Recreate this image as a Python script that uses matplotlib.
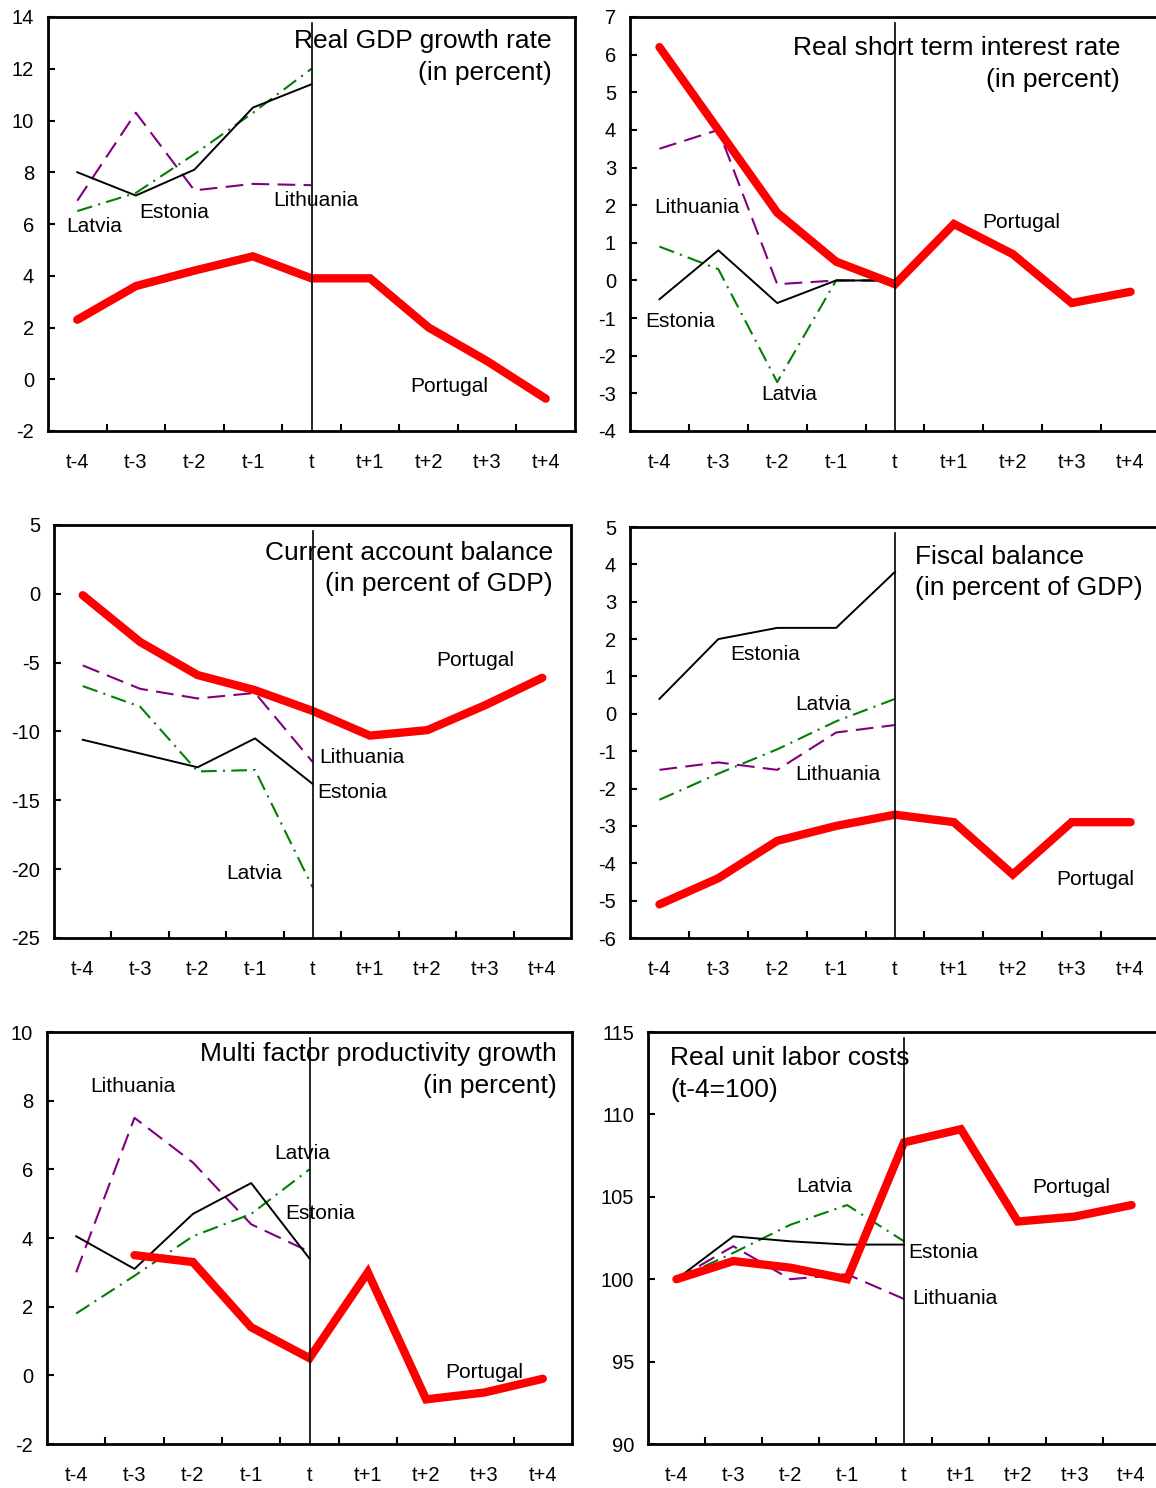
import numpy as np
import matplotlib
matplotlib.use('Agg')
import matplotlib.pyplot as plt

plt.rcParams['font.family'] = ['Liberation Sans', 'DejaVu Sans']
plt.rcParams['axes.unicode_minus'] = False

# categories
periods = ['t-4', 't-3', 't-2', 't-1', 't', 't+1', 't+2', 't+3', 't+4']

# real GDP growth rate
gdp_portugal = [2.3, 3.6, 4.2, 4.75, 3.9, 3.9, 2.0, 0.7, -0.75]
gdp_estonia = [8.0, 7.1, 8.1, 10.5, 11.4]
gdp_latvia = [6.5, 7.2, 8.7, 10.3, 12.0]
gdp_lithuania = [6.9, 10.3, 7.3, 7.55, 7.5]

# real short term interest rate
ir_portugal = [6.2, 4.0, 1.8, 0.5, -0.1, 1.5, 0.7, -0.6, -0.3]
ir_estonia = [-0.5, 0.8, -0.6, 0.0, 0.0]
ir_latvia = [0.9, 0.3, -2.7, 0.0, 0.0]
ir_lithuania = [3.5, 4.0, -0.1, 0.0, 0.0]

# current account balance
ca_portugal = [-0.1, -3.5, -5.9, -7.0, -8.5, -10.3, -9.9, -8.1, -6.1]
ca_estonia = [-10.6, -11.6, -12.6, -10.5, -13.8]
ca_latvia = [-6.7, -8.2, -12.9, -12.8, -21.3]
ca_lithuania = [-5.2, -6.9, -7.6, -7.2, -12.2]

# fiscal balance
fb_portugal = [-5.1, -4.4, -3.4, -3.0, -2.7, -2.9, -4.3, -2.9, -2.9]
fb_estonia = [0.4, 2.0, 2.3, 2.3, 3.8]
fb_latvia = [-2.3, -1.6, -0.95, -0.2, 0.4]
fb_lithuania = [-1.5, -1.3, -1.5, -0.5, -0.3]

# multi factor productivity growth (no t-4 value for Portugal)
mfp_portugal = [np.nan, 3.5, 3.3, 1.4, 0.5, 3.0, -0.7, -0.5, -0.1]
mfp_estonia = [4.05, 3.1, 4.7, 5.6, 3.4]
mfp_latvia = [1.8, 2.9, 4.05, 4.7, 6.0]
mfp_lithuania = [3.0, 7.5, 6.2, 4.4, 3.6]

# real unit labor costs
ulc_portugal = [100.0, 101.1, 100.7, 100.0, 108.3, 109.1, 103.5, 103.8, 104.5]
ulc_estonia = [100.0, 102.6, 102.3, 102.1, 102.1]
ulc_latvia = [100.0, 101.6, 103.3, 104.5, 102.3]
ulc_lithuania = [100.0, 102.0, 100.0, 100.3, 98.8]

W, H = 1156, 1488
fig = plt.figure(figsize=(W / 100, H / 100), dpi=100)


def make_axes(left, right, top, bottom):
    return fig.add_axes([left / W, 1 - bottom / H, (right - left) / W, (bottom - top) / H])


def draw_panel(ax, portugal, estonia, latvia, lithuania, yticks, title, title_pos, title_ha, labels):
    x = np.arange(len(periods))
    xb = x[:5]
    ax.plot(xb, lithuania, color='#800080', lw=1.5, dashes=(8.5, 4), zorder=2)
    ax.plot(xb, latvia, color='#008000', lw=1.5, dashes=(7.5, 3, 1, 3), zorder=2)
    ax.plot(xb, estonia, color='black', lw=1.4, zorder=3)
    ax.plot(x, np.array(portugal, dtype=float), color='#ff0000', lw=6,
            solid_capstyle='round', solid_joinstyle='miter', zorder=4)
    ax.axvline(4, ymin=0, ymax=0.985, color='black', lw=1.2, zorder=5)

    ax.set_xlim(-0.5, 8.5)
    ax.set_ylim(yticks[0], yticks[-1])
    ax.set_yticks(yticks)
    ax.set_xticks(x)
    ax.set_xticklabels(periods)
    ax.set_xticks(np.arange(0.5, 8, 1), minor=True)
    ax.tick_params(axis='x', which='major', length=0, pad=16, labelsize=14.5)
    ax.tick_params(axis='x', which='minor', direction='in', length=5, width=1.5)
    ax.tick_params(axis='y', direction='in', length=5, width=1.5, pad=10, labelsize=14.5)
    for s in ax.spines.values():
        s.set_linewidth(2)

    ax.text(title_pos[0], title_pos[1], title, transform=ax.transAxes, ha=title_ha,
            va='top', fontsize=19, multialignment=title_ha, linespacing=1.4)
    for name, lx, ly in labels:
        ax.text(lx, ly, name, ha='left', va='center', fontsize=15)


# Real GDP growth rate
ax1 = make_axes(48, 575, 17, 431)
draw_panel(ax1, gdp_portugal, gdp_estonia, gdp_latvia, gdp_lithuania,
           list(range(-2, 15, 2)), 'Real GDP growth rate\n(in percent)', (0.955, 0.97), 'right',
           [('Latvia', -0.19, 5.9), ('Estonia', 1.06, 6.45), ('Lithuania', 3.35, 6.9),
            ('Portugal', 5.69, -0.27)])

# Real short term interest rate
ax2 = make_axes(630, 1160, 17, 431)
draw_panel(ax2, ir_portugal, ir_estonia, ir_latvia, ir_lithuania,
           list(range(-4, 8)), 'Real short term interest rate\n(in percent)', (0.925, 0.953), 'right',
           [('Lithuania', -0.08, 1.95), ('Estonia', -0.24, -1.09), ('Latvia', 1.73, -3.03),
            ('Portugal', 5.48, 1.54)])

# Current account balance
ax3 = make_axes(54, 571, 525, 938)
draw_panel(ax3, ca_portugal, ca_estonia, ca_latvia, ca_lithuania,
           list(range(-25, 6, 5)), 'Current account balance\n(in percent of GDP)', (0.965, 0.962), 'right',
           [('Lithuania', 4.11, -11.9), ('Estonia', 4.09, -14.45), ('Latvia', 2.49, -20.3),
            ('Portugal', 6.15, -4.87)])

# Fiscal balance
ax4 = make_axes(630, 1160, 527, 938)
draw_panel(ax4, fb_portugal, fb_estonia, fb_latvia, fb_lithuania,
           list(range(-6, 6)), 'Fiscal balance\n(in percent of GDP)', (0.537, 0.957), 'left',
           [('Estonia', 1.21, 1.6), ('Latvia', 2.31, 0.24), ('Lithuania', 2.31, -1.63),
            ('Portugal', 6.74, -4.44)])

# Multi factor productivity growth
ax5 = make_axes(47, 572, 1032, 1444)
draw_panel(ax5, mfp_portugal, mfp_estonia, mfp_latvia, mfp_lithuania,
           list(range(-2, 11, 2)), 'Multi factor productivity growth\n(in percent)', (0.971, 0.975), 'right',
           [('Lithuania', 0.24, 8.42), ('Latvia', 3.40, 6.47), ('Estonia', 3.59, 4.72),
            ('Portugal', 6.33, 0.09)])

# Real unit labor costs
ax6 = make_axes(648, 1160, 1032, 1444)
draw_panel(ax6, ulc_portugal, ulc_estonia, ulc_latvia, ulc_lithuania,
           list(range(90, 116, 5)), 'Real unit labor costs\n(t-4=100)', (0.043, 0.965), 'left',
           [('Latvia', 2.10, 105.64), ('Estonia', 4.07, 101.64), ('Lithuania', 4.14, 98.8),
            ('Portugal', 6.26, 105.58)])

fig.savefig('out.png', dpi=100)
